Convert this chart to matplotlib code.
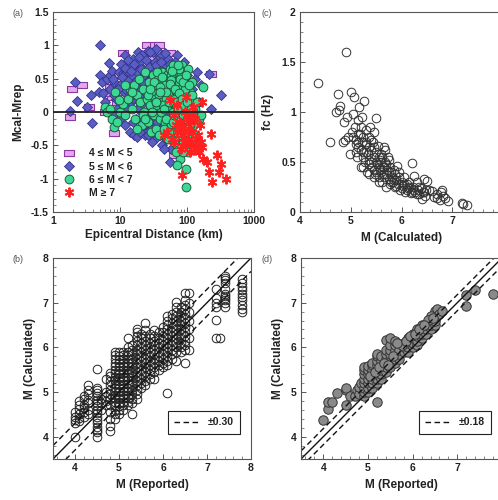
import matplotlib
matplotlib.use("Agg")
import matplotlib.pyplot as plt
from matplotlib.lines import Line2D
from matplotlib.ticker import MultipleLocator, FixedLocator
import numpy as np

plt.rcParams['font.family'] = ['Liberation Sans', 'DejaVu Sans']
plt.rcParams['font.weight'] = 'bold'

# ---- panel (a): residual vs epicentral distance ----
sq_d = [1.8, 1.9, 2.7, 3.5, 6, 7, 7.5, 8, 11, 12, 15, 17, 18, 20, 22, 25, 28, 30, 33, 38,
        40, 45, 55, 65, 12, 10, 9, 230, 14, 35, 50, 20, 8.5, 6.5]
sq_r = [-0.08, 0.35, 0.4, 0.07, 0.0, 0.38, 0.22, -0.32, 0.88, 0.72, 0.75, 0.65, 0.8, 0.55, 0.82, 1.0, 0.8, 0.65, 1.0, 1.0,
        0.8, 0.72, 0.88, -0.65, 0.5, 0.3, 0.15, 0.57, 0.45, 0.9, 0.6, 0.3, 0.55, 0.28]

dm_d = [1.8, 2.1, 2.3, 3.2, 3.7, 3.8, 4.8, 5, 5, 5.3, 5.5, 6.5, 6.8, 7, 7.5, 8.2, 8.8, 9.5, 10, 10.5,
        11, 11.5, 12, 12.5, 13, 13.5, 14, 14.5, 15, 15.5, 16, 16.5, 17, 17.5, 18, 18.5, 19, 19.5, 20, 20.5,
        21, 21.5, 22, 23, 23.5, 24, 25, 25.5, 26, 27, 27.5, 28, 29, 30, 31, 32, 33, 34, 35, 36,
        37, 38, 39, 40, 42, 43, 44, 45, 46, 48, 50, 52, 54, 56, 58, 60, 62, 64, 66, 68,
        70, 72, 75, 78, 80, 85, 90, 95, 100, 110, 120, 125, 130, 150, 160, 210, 225, 320, 55, 45,
        12, 14, 16, 18, 22, 26, 30, 35, 40, 8, 9, 10, 11, 24, 28, 32, 36, 15, 13, 17,
        19, 21, 23, 27, 29, 33, 37, 41, 47, 53, 57, 63, 67, 73, 83, 93, 105, 140, 115, 6,
        7.2, 20, 25, 50, 12, 10.5, 65, 42,
        10.8, 11.8, 13.2, 14.8, 16.2, 17.8, 19.2, 20.8, 22.5, 24.5, 26.5, 28.5, 31.5, 34.5, 37.5, 40.5, 44, 47, 51, 55,
        59, 63, 69, 76, 12.8, 15.8, 18.8, 21.8, 25.8, 29.5, 33.5, 38.5, 43.5, 48.5, 53.5, 61, 9.2, 8, 7.8, 26,
        31, 36]
dm_r = [0.02, 0.45, 0.16, 0.08, 0.25, -0.17, 0.3, 1.0, 0.55, 0.45, 0.28, 0.5, 0.74, 0.55, 0.62, 0.45, 0.2, 0.6, 0.4, 0.72,
        0.58, 0.3, 0.85, 0.6, 0.48, 0.1, 0.7, 0.35, 0.55, 0.8, 0.2, 0.45, 0.65, -0.1, 0.6, 0.9, 0.38, -0.25, 0.75, 0.1,
        0.5, 0.28, 0.65, 0.85, -0.35, 0.4, 0.2, 0.6, 0.92, 0.05, 0.48, 0.72, -0.15, 0.35, 0.9, 0.6, -0.4, 0.25, 0.95, 0.5,
        0.8, -0.05, 0.65, 0.3, 0.85, -0.5, 0.45, 0.12, 0.7, 0.55, -0.2, 0.8, 0.35, 0.6, -0.55, 0.25, 0.7, 0.45, 0.05, 0.6,
        0.85, 0.2, 0.5, -0.3, 0.65, 0.4, 0.75, 0.3, 0.55, 0.45, 0.35, 0.2, 0.5, 0.15, 0.4, 0.57, 0.05, 0.25, -0.75, -0.55,
        -0.2, -0.3, -0.35, -0.38, -0.1, -0.28, -0.45, -0.2, -0.35, -0.05, 0.05, -0.1, 0.1, 0.3, 0.18, 0.4, 0.15, 0.25, 0.62, 0.42,
        0.15, 0.85, 0.55, 0.68, 0.32, 0.75, 0.55, 0.6, 0.3, 0.5, 0.15, 0.35, 0.75, 0.4, 0.15, 0.55, 0.25, 0.6, -0.1, 0.15,
        0.35, -0.3, -0.15, 0.05, 0.35, 0.15, -0.1, 0.05,
        0.52, 0.66, 0.78, 0.62, 0.72, 0.48, 0.82, 0.64, 0.42, 0.78, 0.35, 0.9, 0.52, 0.7, 0.42, 0.75, 0.6, 0.88, 0.45, 0.72,
        0.38, 0.55, 0.3, 0.45, 0.05, -0.15, 0.05, -0.2, -0.05, -0.25, 0.1, -0.3, -0.25, -0.4, 0.0, -0.45, 0.35, 0.25, 0.5, -0.35,
        -0.3, -0.15]

gc_d = [6, 6.5, 7, 7.5, 8, 8.5, 9, 10, 11, 12, 13, 14, 15, 16, 17, 18, 19, 20, 21, 22,
        23, 24, 25, 26, 27, 28, 29, 30, 31, 32, 33, 34, 35, 36, 37, 38, 39, 40, 41, 42,
        43, 44, 45, 46, 47, 48, 50, 51, 52, 54, 55, 56, 58, 60, 61, 62, 64, 65, 66, 68,
        70, 71, 72, 74, 75, 77, 78, 80, 82, 84, 85, 87, 88, 90, 92, 95, 96, 98, 100, 103,
        105, 108, 110, 115, 118, 120, 125, 130, 135, 140, 150, 160, 175, 95, 72, 68, 48, 36, 58, 80,
        62, 44, 52, 66, 76, 86, 92, 102, 112, 122, 128, 57, 47, 38, 30, 26, 22, 18, 15, 12, 9.5,
        32, 35, 39, 43, 46, 49, 53, 56, 59, 63, 67, 70, 73, 76, 79, 83, 86, 89, 93, 97,
        101, 106, 111, 117, 124, 64, 71, 78, 88, 99, 54, 45, 40, 34, 28, 24, 105, 115, 82, 74]
gc_r = [0.08, 0.0, 0.05, -0.1, -0.22, 0.3, -0.15, 0.0, 0.12, -0.05, 0.2, 0.35, 0.05, 0.4, -0.1, 0.25, 0.5, 0.15, -0.2, 0.35,
        0.0, 0.6, 0.2, -0.15, 0.45, 0.1, -0.3, 0.3, 0.55, -0.05, 0.2, 0.4, -0.25, 0.1, 0.5, 0.25, -0.1, 0.35, 0.0, 0.6,
        0.15, -0.35, 0.3, 0.45, -0.15, 0.2, 0.55, 0.05, -0.4, 0.35, 0.65, 0.15, -0.2, 0.4, 0.0, 0.7, 0.25, -0.3, 0.5, 0.1,
        -0.5, 0.3, 0.6, -0.1, 0.45, 0.2, -0.7, 0.0, 0.35, -0.25, 0.7, 0.15, -0.45, 0.5, 0.05, -0.85, 0.25, -0.15, 0.4, 0.65,
        -0.35, 0.1, 0.3, -0.55, 0.2, 0.45, -0.2, 0.05, -0.45, 0.15, -0.1, -0.05, 0.38, -1.12, -0.8, -0.6, -0.1, 0.6, 0.55, 0.55,
        -0.15, 0.1, 0.3, 0.2, 0.65, -0.05, 0.35, -0.6, -0.2, 0.0, -0.35, 0.48, 0.4, -0.35, 0.0, 0.25, -0.05, -0.25, 0.3, 0.4, 0.18,
        0.45, 0.15, 0.38, 0.52, 0.05, 0.3, 0.15, 0.42, 0.62, -0.05, 0.35, 0.15, 0.05, 0.28, 0.5, 0.2, 0.45, 0.1, -0.3, 0.55,
        0.15, 0.4, -0.4, 0.25, -0.05, -0.45, -0.3, -0.2, -0.6, -0.1, -0.3, -0.25, 0.3, 0.15, 0.35, -0.1, -0.25, 0.05, -0.35, 0.7]

st_d = [55, 63, 70, 75, 68, 72, 78, 82, 85, 88, 92, 95, 100, 105, 108, 112, 115, 118, 120, 125,
        130, 135, 140, 145, 150, 155, 160, 165, 170, 175, 200, 210, 230, 240, 280, 300, 320, 380, 80, 90,
        98, 60, 50, 45, 65, 110, 84, 130]
st_r = [0.18, -0.05, 0.1, -0.25, -0.2, -0.3, -0.15, -0.22, -0.35, -0.28, 0.0, 0.22, -0.1, -0.4, -0.25, -0.15, -0.45, -0.05, -0.3, 0.08,
        -0.55, -0.4, -0.5, -0.35, -0.6, -0.2, -0.45, -0.52, 0.15, -0.7, -0.75, -0.9, -0.33, -1.05, -0.65, -0.9, -0.78, -1.0, -0.55, -0.45,
        -0.5, -0.4, -0.3, -0.35, -0.45, -0.6, -0.94, -0.1]

# ---- panel (c): corner frequency vs calculated M ----
c_m = [4.35, 4.6, 4.7, 4.75, 4.77, 4.78, 4.85, 4.87, 4.88, 4.9, 4.92, 4.95, 4.98, 5.0, 5.02, 5.05, 5.07, 5.08, 5.1, 5.12,
       5.14, 5.15, 5.17, 5.18, 5.2, 5.22, 5.23, 5.25, 5.27, 5.28, 5.3, 5.31, 5.32, 5.34, 5.35, 5.36, 5.38, 5.4, 5.42, 5.43,
       5.45, 5.46, 5.48, 5.5, 5.5, 5.52, 5.53, 5.55, 5.57, 5.58, 5.6, 5.62, 5.63, 5.65, 5.66, 5.68, 5.7, 5.72, 5.73, 5.75,
       5.77, 5.78, 5.8, 5.82, 5.83, 5.85, 5.87, 5.88, 5.9, 5.92, 5.93, 5.95, 5.97, 6.0, 6.02, 6.05, 6.07, 6.1, 6.12, 6.15,
       6.18, 6.2, 6.22, 6.25, 6.27, 6.3, 6.32, 6.35, 6.38, 6.4, 6.42, 6.44, 6.46, 6.48, 6.5, 6.6, 6.65, 6.7, 6.75, 6.78,
       6.8, 6.82, 6.85, 6.92, 7.2, 7.22, 7.3, 5.1, 5.15, 5.2, 5.25, 5.3, 5.35, 5.4, 5.45, 5.5, 5.55, 5.6, 5.65, 5.7,
       5.75, 5.8, 5.25, 5.3, 5.35, 5.4, 5.45, 5.2, 5.55, 5.6, 5.65, 5.7, 5.9, 6.0, 6.1, 6.2, 6.3, 5.05, 5.1, 5.15,
       5.25, 5.35, 5.45, 5.5, 5.55, 5.62, 5.68, 5.75, 5.85, 5.95, 6.05, 6.15, 6.25, 6.35, 6.45, 6.55, 6.7]
c_fc = [1.29, 0.7, 1.0, 1.18, 1.02, 1.06, 0.7, 0.9, 0.72, 1.6, 0.95, 0.75, 0.58, 1.2, 0.8, 0.98, 1.15, 0.85, 0.72, 0.55,
        0.92, 0.65, 1.05, 0.78, 0.45, 0.7, 0.95, 0.6, 1.11, 0.5, 0.82, 0.68, 0.4, 0.58, 0.75, 0.52, 0.85, 0.62, 0.45, 0.7,
        0.55, 0.8, 0.38, 0.94, 0.6, 0.48, 0.66, 0.35, 0.52, 0.42, 0.58, 0.3, 0.45, 0.65, 0.38, 0.5, 0.25, 0.42, 0.55, 0.33,
        0.45, 0.28, 0.4, 0.35, 0.3, 0.42, 0.25, 0.38, 0.32, 0.46, 0.28, 0.35, 0.22, 0.3, 0.26, 0.35, 0.2, 0.28, 0.24, 0.3,
        0.19, 0.49, 0.25, 0.36, 0.2, 0.3, 0.22, 0.18, 0.24, 0.13, 0.2, 0.33, 0.16, 0.22, 0.31, 0.21, 0.15, 0.18, 0.12, 0.2,
        0.22, 0.16, 0.14, 0.11, 0.09, 0.08, 0.07, 0.6, 0.7, 0.62, 0.55, 0.6, 0.48, 0.5, 0.42, 0.5, 0.45, 0.4, 0.35, 0.38,
        0.4, 0.3, 0.75, 0.7, 0.65, 0.72, 0.65, 0.85, 0.55, 0.5, 0.45, 0.48, 0.26, 0.24, 0.22, 0.2, 0.18, 0.75, 0.68, 0.78,
        0.45, 0.38, 0.35, 0.4, 0.3, 0.55, 0.62, 0.52, 0.32, 0.4, 0.28, 0.25, 0.22, 0.25, 0.2, 0.22, 0.14]

# ---- panel (b): calculated vs reported M, all stations ----
b_rep = [4.0, 4.1, 4.2, 4.3, 4.5, 4.6, 4.7, 4.8, 4.9, 5.0, 5.1, 5.2, 5.3, 5.4, 5.5, 5.6, 5.7, 5.8,
         5.9, 6.0, 6.1, 6.2, 6.3, 6.4, 6.5, 6.6, 7.2, 7.3, 7.4, 7.8]
b_cal = [
    [4.0, 4.3, 4.38, 4.45, 4.55],
    [4.35, 4.42, 4.5, 4.62, 4.7, 4.8],
    [4.45, 4.55, 4.65, 4.72, 4.85, 4.9],
    [4.5, 4.6, 4.75, 4.82, 4.95, 5.05, 5.15],
    [4.0, 4.1, 4.15, 4.22, 4.3, 4.38, 4.45, 4.52, 4.6, 4.68, 4.75, 4.82, 4.9, 4.98, 5.05, 5.1, 5.52],
    [4.6, 4.75, 4.85],
    [4.7, 4.8, 4.9, 5.0, 5.3],
    [4.12, 4.25, 4.4, 4.55, 4.7, 4.85, 4.95, 5.05, 5.15, 5.25, 5.35, 5.42],
    [4.4, 4.5, 4.6, 4.7, 4.78, 4.86, 4.94, 5.02, 5.1, 5.18, 5.26, 5.34, 5.42, 5.5, 5.58, 5.66, 5.74, 5.82, 5.9],
    [4.5, 4.6, 4.68, 4.76, 4.84, 4.92, 5.0, 5.08, 5.16, 5.24, 5.32, 5.4, 5.48, 5.56, 5.64, 5.72, 5.8, 5.9],
    [4.6, 4.7, 4.78, 4.86, 4.94, 5.02, 5.1, 5.18, 5.26, 5.34, 5.42, 5.5, 5.58, 5.66, 5.74, 5.82, 5.9],
    [4.7, 4.78, 4.86, 4.94, 5.02, 5.1, 5.18, 5.26, 5.34, 5.42, 5.5, 5.58, 5.66, 5.74, 5.82, 5.9, 6.0, 6.2],
    [4.5, 4.75, 4.85, 4.95, 5.05, 5.15, 5.25, 5.35, 5.45, 5.55, 5.65, 5.75, 5.85, 5.95, 6.05],
    [4.85, 4.95, 5.05, 5.15, 5.25, 5.35, 5.45, 5.55, 5.65, 5.75, 5.85, 5.95, 6.05, 6.15, 6.25, 6.35, 6.4],
    [5.1, 5.2, 5.3, 5.4, 5.5, 5.6, 5.7, 5.8, 5.9, 6.0, 6.1, 6.2, 6.3],
    [5.15, 5.25, 5.35, 5.45, 5.55, 5.65, 5.75, 5.85, 5.95, 6.05, 6.15, 6.25, 6.38, 6.55],
    [5.3, 5.4, 5.5, 5.6, 5.7, 5.8, 5.9, 6.0, 6.1, 6.2, 6.3],
    [5.3, 5.45, 5.55, 5.65, 5.75, 5.85, 5.95, 6.05, 6.15, 6.25, 6.38],
    [5.5, 5.6, 5.7, 5.8, 5.9, 6.0, 6.1, 6.2, 6.35],
    [5.55, 5.65, 5.75, 5.85, 5.95, 6.05, 6.15, 6.25, 6.35, 6.45],
    [4.97, 5.6, 5.7, 5.8, 5.9, 6.0, 6.1, 6.2, 6.3, 6.4, 6.5, 6.6, 6.7],
    [5.75, 5.85, 5.95, 6.05, 6.15, 6.25, 6.35, 6.45, 6.55, 6.65, 6.75],
    [5.7, 5.9, 6.0, 6.1, 6.2, 6.3, 6.4, 6.5, 6.6, 6.7, 6.8, 6.9, 7.02],
    [5.9, 6.0, 6.1, 6.2, 6.3, 6.4, 6.5, 6.6, 6.7, 6.8, 6.9],
    [5.65, 5.95, 6.05, 6.15, 6.25, 6.35, 6.45, 6.55, 6.65, 6.75, 6.85, 6.95, 7.05, 7.22],
    [5.95, 6.2, 6.4, 6.6, 6.8, 7.0, 7.22],
    [6.22, 6.62, 6.9, 7.0, 7.1, 7.3],
    [6.22],
    [6.9, 7.0, 7.05, 7.1, 7.15, 7.2, 7.3, 7.45, 7.5, 7.55, 7.6],
    [6.78, 6.85, 6.95, 7.05, 7.12, 7.2, 7.28, 7.35, 7.45, 7.52],
]

# ---- panel (d): calculated vs reported M, event averages ----
d_rep = [4.0, 4.1, 4.1, 4.2, 4.3, 4.5, 4.5, 4.5, 4.6, 4.7, 4.75, 4.8, 4.8, 4.85, 4.9, 4.9, 4.9, 4.9, 4.9, 4.9,
         4.9, 4.9, 5.0, 5.0, 5.0, 5.0, 5.0, 5.0, 5.0, 5.1, 5.1, 5.1, 5.1, 5.1, 5.1, 5.1, 5.2, 5.2, 5.2, 5.2,
         5.2, 5.2, 5.2, 5.2, 5.2, 5.3, 5.3, 5.3, 5.3, 5.3, 5.3, 5.4, 5.4, 5.4, 5.4, 5.4, 5.4, 5.4, 5.5, 5.5,
         5.5, 5.5, 5.5, 5.5, 5.5, 5.6, 5.6, 5.6, 5.6, 5.6, 5.6, 5.7, 5.7, 5.7, 5.8, 5.8, 5.8, 5.9, 5.9, 5.9,
         5.9, 6.0, 6.0, 6.0, 6.0, 6.1, 6.1, 6.1, 6.1, 6.1, 6.2, 6.2, 6.2, 6.2, 6.3, 6.3, 6.3, 6.4, 6.4, 6.5,
         6.5, 6.5, 6.5, 6.55, 6.6, 6.65, 6.4, 6.35, 6.45, 5.75, 5.65, 7.2, 7.2, 7.4, 7.8, 5.05, 5.15, 5.25, 5.35, 5.45,
         5.55, 5.85, 5.95, 6.05, 6.15, 6.25]
d_cal = [4.38, 4.62, 4.78, 4.78, 4.98, 4.72, 5.05, 5.1, 4.92, 4.9, 5.05, 4.95, 5.12, 5.2, 4.9, 5.0, 5.1, 5.2, 5.3, 5.4,
         5.5, 5.57, 5.0, 5.1, 5.2, 5.3, 5.4, 5.5, 5.58, 5.1, 5.2, 5.3, 5.4, 5.5, 5.6, 5.65, 4.78, 5.2, 5.3, 5.4,
         5.5, 5.6, 5.7, 5.8, 5.85, 5.3, 5.4, 5.5, 5.6, 5.7, 5.8, 5.45, 5.55, 5.65, 5.75, 5.85, 5.95, 6.17, 5.55, 5.65,
         5.75, 5.85, 5.95, 6.05, 6.2, 5.65, 5.75, 5.85, 5.95, 6.05, 6.15, 5.75, 5.85, 5.95, 5.9, 6.0, 6.1, 5.9, 6.0, 6.1,
         6.2, 6.0, 6.1, 6.2, 6.3, 6.05, 6.15, 6.25, 6.35, 6.42, 6.2, 6.3, 6.42, 6.5, 6.3, 6.42, 6.5, 6.42, 6.5, 6.5,
         6.6, 6.7, 6.82, 6.85, 6.75, 6.82, 6.7, 6.62, 6.65, 6.05, 6.1, 6.92, 7.18, 7.28, 7.2, 5.35, 5.45, 5.55, 5.65, 5.6,
         5.8, 6.15, 6.25, 6.3, 6.4, 6.5]

txt = '#222222'
spine = '#555555'
rect = [(-1, -0.6), (1, -0.6), (1, 0.6), (-1, 0.6), (-1, -0.6)]


def style(ax):
    for s in ax.spines.values():
        s.set_color(spine)
        s.set_linewidth(0.8)
    ax.tick_params(which='both', direction='in', colors=spine, labelcolor=txt,
                   labelsize=7.5, top=False, right=False)
    ax.tick_params(which='major', length=3.5, width=0.7, pad=3)
    ax.tick_params(which='minor', length=2, width=0.5)
    for lab in ax.get_xticklabels() + ax.get_yticklabels():
        lab.set_fontweight('bold')


def labels(ax, xl, yl, xpad=2):
    ax.set_xlabel(xl, fontsize=8.5, fontweight='bold', color=txt, labelpad=xpad)
    ax.set_ylabel(yl, fontsize=8.5, fontweight='bold', color=txt, labelpad=5)


def mag_axes(ax, xt):
    ax.set_xlim(3.5, 8)
    ax.set_ylim(3.5, 8)
    ax.xaxis.set_major_locator(FixedLocator(xt))
    ax.yaxis.set_major_locator(FixedLocator([4, 5, 6, 7, 8]))
    ax.xaxis.set_minor_locator(MultipleLocator(0.2))
    ax.yaxis.set_minor_locator(MultipleLocator(0.2))
    labels(ax, 'M (Reported)', 'M (Calculated)', xpad=4)
    style(ax)


def band_legend(ax, handle, label):
    leg = ax.legend([handle], [label], loc='lower right', bbox_to_anchor=(0.97, 0.1), fontsize=7.5,
                    fancybox=False, edgecolor='#222222', framealpha=1, handlelength=2.4, borderpad=0.6)
    leg.get_frame().set_linewidth(0.8)
    for t in leg.get_texts():
        t.set_fontweight('bold')
        t.set_color(txt)


fig = plt.figure(figsize=(4.98, 5.0), dpi=100)

# (a)
ax = fig.add_axes([53 / 498, 1 - 212 / 500, 201 / 498, 200 / 500])
ax.set_xscale('log')
ax.plot(sq_d, sq_r, ls='none', marker=rect, ms=7, mfc='#e4a6ec', mec='#8a3a9e', mew=0.8,
        label='4 ≤ M < 5', zorder=2)
ax.plot(dm_d, dm_r, ls='none', marker='D', ms=5, mfc='#5a5ec4', mec='#34348a', mew=0.6,
        label='5 ≤ M < 6', zorder=3)
ax.plot(gc_d, gc_r, ls='none', marker='o', ms=6.3, mfc='#3ed896', mec='#1d5c3c', mew=0.7,
        label='6 ≤ M < 7', zorder=4)
ax.plot(st_d, st_r, ls='none', marker=(6, 2, 0), ms=7, mfc='#ff2020', mec='#ff2020', mew=1.4,
        label='M ≥ 7', zorder=5)
ax.axhline(0, color='#222222', lw=1.3, zorder=6)
ax.set_xlim(1, 1000)
ax.set_ylim(-1.5, 1.5)
ax.xaxis.set_major_locator(FixedLocator([1, 10, 100, 1000]))
ax.set_xticklabels(['1', '10', '100', '1000'])
ax.set_yticks([-1.5, -1, -0.5, 0, 0.5, 1, 1.5])
ax.set_yticklabels(['-1.5', '-1', '-0.5', '0', '0.5', '1', '1.5'])
ax.yaxis.set_minor_locator(MultipleLocator(0.1))
labels(ax, 'Epicentral Distance (km)', 'Mcal-Mrep', xpad=2)
style(ax)
leg = ax.legend(loc='lower left', bbox_to_anchor=(0.03, 0.05), frameon=False, fontsize=7.5,
                handletextpad=1.3, labelspacing=0.3, handlelength=1.2, borderaxespad=0)
for t in leg.get_texts():
    t.set_fontweight('bold')
    t.set_color(txt)
fig.text(12 / 498, 1 - 14 / 500, '(a)', fontsize=6.5, color='#555555', fontweight='normal', va='center')

# (c)
ax = fig.add_axes([300 / 498, 1 - 212 / 500, 203 / 498, 200 / 500])
ax.plot(c_m, c_fc, ls='none', marker='o', ms=6.2, mfc='none', mec='#333333', mew=0.7)
ax.set_xlim(4, 8)
ax.set_ylim(0, 2)
ax.xaxis.set_major_locator(FixedLocator([4, 5, 6, 7]))
ax.xaxis.set_minor_locator(MultipleLocator(0.2))
ax.set_yticks([0, 0.5, 1, 1.5, 2])
ax.set_yticklabels(['0', '0.5', '1', '1.5', '2'])
ax.yaxis.set_minor_locator(MultipleLocator(0.1))
labels(ax, 'M (Calculated)', 'fc (Hz)', xpad=4)
style(ax)
fig.text(262 / 498, 1 - 14 / 500, '(c)', fontsize=6.5, color='#555555', fontweight='normal', va='center')

# (b)
xb = np.concatenate([np.full(len(v), r) for r, v in zip(b_rep, b_cal)])
yb = np.concatenate([np.array(v) for v in b_cal])
ln = np.array([3.5, 8])
dash = (0, (4, 2.5))
h = Line2D([], [], color='#111111', lw=1.0, ls=dash)

ax = fig.add_axes([53 / 498, 1 - 459 / 500, 198 / 498, 201 / 500])
ax.plot(xb, yb, ls='none', marker='o', ms=6.2, mfc='none', mec='#222222', mew=0.7)
ax.plot(ln, ln, color='#111111', lw=1.0)
ax.plot(ln, ln + 0.30, color='#111111', lw=1.0, ls=dash)
ax.plot(ln, ln - 0.30, color='#111111', lw=1.0, ls=dash)
mag_axes(ax, [4, 5, 6, 7, 8])
band_legend(ax, h, '±0.30')
fig.text(12 / 498, 1 - 259 / 500, '(b)', fontsize=6.5, color='#555555', fontweight='normal', va='center')

# (d)
ax = fig.add_axes([301 / 498, 1 - 459 / 500, 201 / 498, 201 / 500])
ax.plot(d_rep, d_cal, ls='none', marker='o', ms=6.8, mfc='#8a8a8a', mec='#333333', mew=0.7)
ax.plot(ln, ln, color='#111111', lw=1.0)
ax.plot(ln, ln + 0.18, color='#111111', lw=1.0, ls=dash)
ax.plot(ln, ln - 0.18, color='#111111', lw=1.0, ls=dash)
mag_axes(ax, [4, 5, 6, 7])
band_legend(ax, h, '±0.18')
fig.text(262 / 498, 1 - 259 / 500, '(d)', fontsize=6.5, color='#555555', fontweight='normal', va='center')

fig.savefig('out.png', dpi=100)
